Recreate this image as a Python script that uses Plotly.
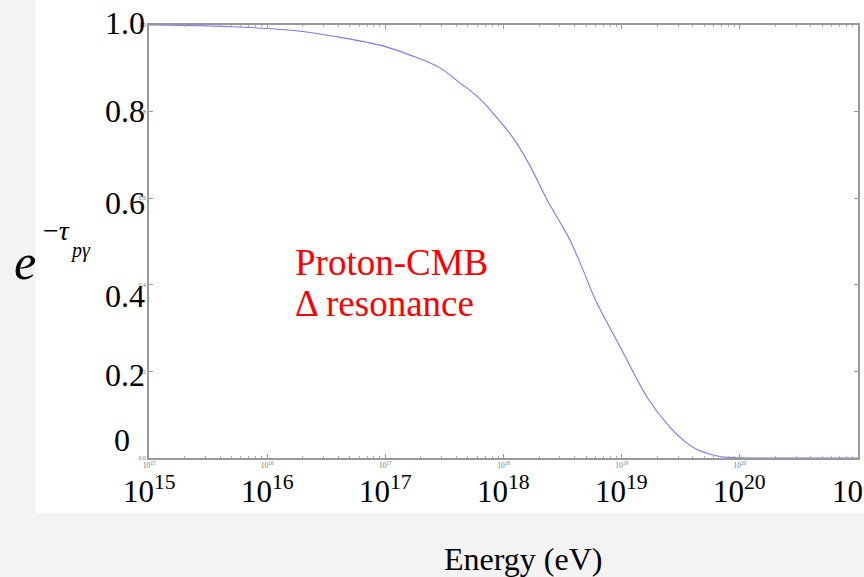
import plotly.graph_objects as go

# Data
energy_ev = [1e15, 2e15, 5e15, 1e16, 2e16, 4e16, 7e16, 1e17, 1.6e17, 2.9e17,
             4.2e17, 6e17, 8e17, 1.2e18, 1.66e18, 2.34e18, 3.0e18, 3.7e18,
             4.7e18, 6.0e18, 7.8e18, 1.0e19, 1.3e19, 1.7e19, 2.4e19, 3.3e19,
             4.3e19, 5.4e19, 7e19, 1e20, 2e20, 1e21]
survival = [1.0, 0.999, 0.996, 0.992, 0.985, 0.972, 0.96, 0.95, 0.931, 0.901,
            0.868, 0.835, 0.799, 0.74, 0.677, 0.596, 0.545, 0.5,
            0.435, 0.365, 0.305, 0.25, 0.19, 0.134, 0.08, 0.042,
            0.02, 0.01, 0.003, 0.0005, 0.0, 0.0]

y_ticks = [0.0, 0.2, 0.4, 0.6, 0.8, 1.0]
y_big_labels = ["0", "0.2", "0.4", "0.6", "0.8", "1.0"]
y_small_labels = ["0.0", "0.2", "0.4", "0.6", "0.8", "1.0"]
x_exponents = [15, 16, 17, 18, 19, 20, 21]

W, H = 864, 577
L, R, T, B = 149, 860, 25, 458

def px(x):
    return (x - L) / (R - L)

def py(y):
    return (B - y) / (B - T)

serif = "Times New Roman"

fig = go.Figure()
fig.add_trace(go.Scatter(x=energy_ev, y=survival, mode="lines",
                         line=dict(color="#7878ff", width=1.1, shape="spline", smoothing=1.0),
                         hoverinfo="skip", showlegend=False))

shapes = [
    dict(type="rect", xref="paper", yref="paper", x0=px(35), x1=px(870), y0=py(513), y1=py(-5),
         fillcolor="white", line=dict(width=0), layer="below"),
]

ann = []
# big y tick labels (hand placed in the source slide)
big_pos = {"0": (132, 440), "0.2": (147, 375), "0.4": (147, 296), "0.6": (147, 203),
           "0.8": (147, 111), "1.0": (147, 23)}
for lab in y_big_labels:
    bx, by = big_pos[lab]
    ann.append(dict(text=lab, xref="paper", yref="paper", x=px(bx), y=py(by),
                    xanchor="right", yanchor="middle", showarrow=False,
                    font=dict(family=serif, size=32, color="black")))
# big x tick labels
for e in x_exponents:
    ann.append(dict(text=f"10<sup>{e}</sup>", xref="paper", yref="paper",
                    x=(e - 15) / 6, y=py(489), xanchor="center", yanchor="middle",
                    showarrow=False, font=dict(family=serif, size=31, color="black")))
# y axis label
ann.append(dict(text="<i>e</i>", xref="paper", yref="paper", x=px(25), y=py(262),
                xanchor="center", yanchor="middle", showarrow=False,
                font=dict(family=serif, size=50, color="black")))
ann.append(dict(text="−<i>τ</i>", xref="paper", yref="paper", x=px(56), y=py(230),
                xanchor="center", yanchor="middle", showarrow=False,
                font=dict(family=serif, size=28, color="black")))
ann.append(dict(text="<i>pγ</i>", xref="paper", yref="paper", x=px(80), y=py(250),
                xanchor="center", yanchor="middle", showarrow=False,
                font=dict(family=serif, size=20, color="black")))
# red annotation
ann.append(dict(text="Proton-CMB", xref="paper", yref="paper",
                x=px(293), y=py(262), xanchor="left", yanchor="middle", align="left",
                showarrow=False, font=dict(family=serif, size=37, color="red")))
ann.append(dict(text="Δ resonance", xref="paper", yref="paper",
                x=px(293), y=py(303), xanchor="left", yanchor="middle", align="left",
                showarrow=False, font=dict(family=serif, size=37, color="red")))
# x axis title
ann.append(dict(text="Energy (eV)", xref="paper", yref="paper", x=px(524), y=py(559),
                xanchor="center", yanchor="middle", showarrow=False,
                font=dict(family=serif, size=32, color="black")))

fig.update_layout(
    width=W, height=H,
    margin=dict(l=L, r=W - R, t=T, b=H - B),
    paper_bgcolor="#f3f3f3",
    plot_bgcolor="white",
    font=dict(family=serif),
    shapes=shapes,
    annotations=ann,
    xaxis=dict(type="log", range=[15, 21], dtick=1, exponentformat="power",
               showgrid=False, zeroline=False, showline=True, linecolor="#999",
               linewidth=1.5, mirror="ticks", ticks="inside", ticklen=4, tickcolor="#999",
               tickfont=dict(family=serif, size=6, color="#777"),
               minor=dict(ticks="inside", ticklen=2, tickcolor="#aaa", showgrid=False)),
    yaxis=dict(range=[0, 1], tickvals=y_ticks, ticktext=y_small_labels,
               showgrid=False, zeroline=False, showline=True, linecolor="#999",
               linewidth=1.5, mirror="ticks", ticks="inside", ticklen=4, tickcolor="#999",
               tickfont=dict(family=serif, size=6, color="#777"), ticklabelstandoff=0),
)

fig.write_html("out.html")
